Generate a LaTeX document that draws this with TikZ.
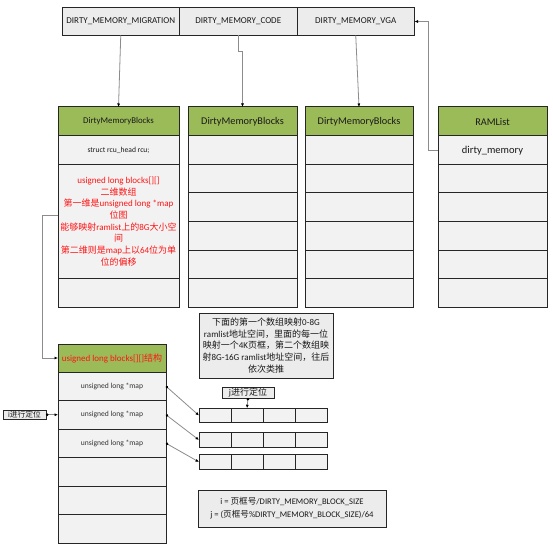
\documentclass[tikz,border=0pt]{standalone}
\usepackage{fontspec}
\setmainfont{Carlito}
\newfontfamily\cjk{Noto Sans CJK SC}
\usetikzlibrary{positioning, arrows.meta, calc}
\definecolor{hdrgreen}{RGB}{155, 187, 89}
\definecolor{cellgray}{RGB}{242, 242, 242}
\definecolor{topgray}{RGB}{236, 236, 236}
\definecolor{edge}{RGB}{38, 38, 38}
\definecolor{wire}{RGB}{140, 140, 140}
\definecolor{redtxt}{RGB}{255, 20, 20}
\newcommand{\zh}[1]{{\cjk #1}}

\begin{document}
\begin{tikzpicture}[
    x=1pt, y=-1pt,
    font=\fontsize{9}{11.7}\selectfont,
    box/.style={rectangle, draw=edge, line width=1pt, outer sep=0pt, inner sep=1pt, align=center, text=black!90},
    topbox/.style={box, fill=topgray, minimum width=117.5pt, minimum height=28pt},
    hdr/.style={box, fill=hdrgreen, minimum height=29pt, font=\fontsize{10.3}{12}\selectfont},
    cell/.style={box, fill=cellgray, minimum height=28.5pt},
    arrcell/.style={box, fill=cellgray, minimum width=32pt, minimum height=14.5pt},
    notebox/.style={box, fill=topgray},
    wirearrow/.style={draw=wire, line width=0.8pt, -{Latex[length=3.5pt, width=3pt, color=black]}},
    dotarrow/.style={wirearrow, {Circle[length=2.5pt, color=black]}-{Latex[length=3.5pt, width=3pt, color=black]}}
]
    \fill[white] (0,0) rectangle (553,553);
    \useasboundingbox (0,0) rectangle (553,553);

    % =========================================================================
    % TOP ROW: DIRTY MEMORY CLIENTS
    % =========================================================================
    \node[topbox] (mig) at (120.75, 21.5) {DIRTY\_MEMORY\_MIGRATION};
    \node[topbox, right=0pt of mig] (code) {DIRTY\_MEMORY\_CODE};
    \node[topbox, right=0pt of code] (vga) {DIRTY\_MEMORY\_VGA};

    % =========================================================================
    % DIRTYMEMORYBLOCKS COLUMNS + RAMLIST
    % =========================================================================
    \node[hdr, minimum width=121pt, font=\fontsize{8.8}{10}\selectfont] (dmb1) at (118.5, 121.5) {DirtyMemoryBlocks};
    \node[cell, minimum width=121pt, below=0pt of dmb1, font=\fontsize{7.6}{9}\selectfont] (rcu) {struct rcu\_head rcu;};
    \node[cell, minimum width=121pt, minimum height=114pt, below=0pt of rcu, text=redtxt, inner sep=2pt] (blk) {usigned long blocks[][]\\
        \zh{二维数组}\\
        \zh{第一维是}unsigned long *map\\
        \zh{位图}\\
        \zh{能够映射}ramlist\zh{上的}8G\zh{大小空}\\
        \zh{间}\\
        \zh{第二维则是}map\zh{上以}64\zh{位为单}\\
        \zh{位的偏移}};
    \node[cell, minimum width=121pt, below=0pt of blk] (dmb1-6) {};

    \foreach \n/\x/\w in {2/242.5/109, 3/359/108} {
        \node[hdr, minimum width=\w pt] (dmb\n) at (\x, 121.5) {DirtyMemoryBlocks};
        \foreach \r in {1,...,6} {
            \node[cell, minimum width=\w pt] (dmb\n-\r) at (\x, {136+28.5*\r-14.25}) {};
        }
    }

    \node[hdr, minimum width=109pt] (ram) at (492.5, 121.5) {RAMList};
    \node[cell, minimum width=109pt, font=\fontsize{10.5}{12}\selectfont] (ram-1) at (492.5, 150.25) {dirty\_memory};
    \foreach \r in {2,...,6} {
        \node[cell, minimum width=109pt] (ram-\r) at (492.5, {136+28.5*\r-14.25}) {};
    }

    % =========================================================================
    % BLOCKS[][] STRUCT + BITMAP ARRAYS
    % =========================================================================
    \node[hdr, minimum width=108pt, minimum height=28pt, text=redtxt, font=\fontsize{9}{11}\selectfont] (sh) at (112, 358) {usigned long blocks[][]\zh{结构}};
    \foreach \r in {1,...,6} {
        \node[cell, minimum width=108pt] (map-\r) at (112, {372+28.5*\r-14.25}) {};
    }
    \foreach \r in {1,2,3} {
        \node[font=\fontsize{7.6}{9}\selectfont, text=black!80] at (map-\r) {unsigned long *map};
    }

    \foreach \r/\y in {1/415.5, 2/440, 3/462} {
        \foreach \c in {1,...,4} {
            \node[arrcell] (arr\r-\c) at ({199+32*\c-16}, \y) {};
        }
    }

    % notes
    \node[notebox, minimum width=134pt, minimum height=65pt] (note) at (266, 345.5) {\zh{下面的第一个数组映射}0-8G\\
        ramlist\zh{地址空间，里面的每一位}\\
        \zh{映射一个}4K\zh{页框，第二个数组映}\\
        \zh{射}8G-16G ramlist\zh{地址空间，往后}\\
        \zh{依次类推}};
    \node[notebox, minimum width=52pt, minimum height=11pt, inner sep=0pt] (jpos) at (248, 392.5) {j\zh{进行定位}};
    \node[notebox, minimum width=43pt, minimum height=9pt, inner sep=0pt, font=\fontsize{7.8}{9}\selectfont] (ipos) at (24.5, 414.75) {i\zh{进行定位}};
    \node[notebox, minimum width=188pt, minimum height=37pt, font=\fontsize{8.6}{13}\selectfont] (formula) at (292, 508.5) {i = \zh{页框号}/DIRTY\_MEMORY\_BLOCK\_SIZE\\
        j = (\zh{页框号}\%DIRTY\_MEMORY\_BLOCK\_SIZE)/64};

    % =========================================================================
    % CONNECTORS
    % =========================================================================
    \draw[wirearrow] (mig.south) -- (dmb1.north);
    \draw[wirearrow] (code.south) -- ++(0, 16) -| (dmb2.north);
    \draw[wirearrow] (vga.south) -- (dmb3.north);
    \draw[wirearrow] (ram-1.west) -- ++(-10, 0) |- (vga.east);
    \draw[wirearrow] ([yshift=6pt]blk.west) -- ++(-16, 0) |- (sh.west);

    \foreach \r in {1,2,3} {
        \draw[dotarrow] (map-\r.east) -- (arr\r-1.west);
    }
    \draw[dotarrow] (jpos.south) -- (arr1-2.north);
    \draw[dotarrow] (ipos.east) -- (map-2.west);

\end{tikzpicture}
\end{document}
